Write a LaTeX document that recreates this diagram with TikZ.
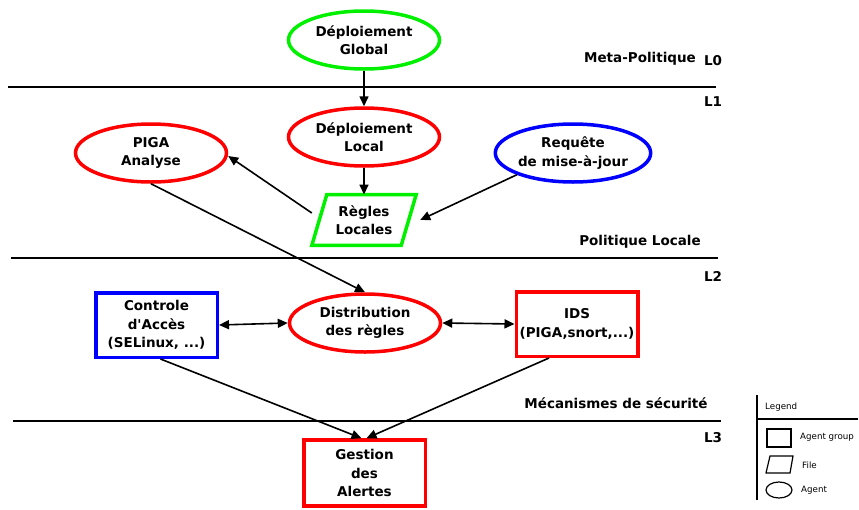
\documentclass[tikz,border=0pt]{standalone}
\usepackage{fontspec}
\setmainfont{DejaVu Sans}[Ligatures=TeXOff]
\usetikzlibrary{shapes.geometric,arrows.meta,calc}
\definecolor{vert}{RGB}{0,240,0}
\definecolor{rouge}{RGB}{255,0,0}
\definecolor{bleu}{RGB}{0,0,255}
\begin{document}
\begin{tikzpicture}[x=1pt,y=-1pt,
 lbl/.style={font=\fontsize{13.5}{18.5}\selectfont\bfseries, align=center},
 agent/.style={ellipse, draw, line width=3.5pt, minimum width=151pt, minimum height=58pt, inner sep=0pt, lbl},
 group/.style={rectangle, draw, line width=3.5pt, minimum width=121.5pt, minimum height=64.5pt, inner sep=0pt, lbl},
 sepline/.style={line width=2pt},
 conn/.style={line width=1.6pt, -{Triangle[length=10pt,width=9pt]}},
 bconn/.style={line width=1.6pt, {Triangle[length=10pt,width=9pt]}-{Triangle[length=10pt,width=9pt]}},
 tag/.style={font=\fontsize{13.5}{15}\selectfont\bfseries},
 leg/.style={font=\fontsize{8.7}{10}\selectfont, anchor=west, inner sep=0pt},
 legshape/.style={line width=1.2pt},
]
\useasboundingbox (0,0) rectangle (859,509);

% separators
\draw[sepline] (8,87) -- (716,87);
\draw[sepline] (11,258) -- (718,258);
\draw[sepline] (13,421) -- (721,421);

% level labels
\node[tag] (meta) at (640,59) {Meta-Politique};
\node[tag] (l0) at (713,61) {L0};
\node[tag] (l1) at (713,102) {L1};
\node[tag] (pol) at (640,242) {Politique Locale};
\node[tag] (l2) at (713,276) {L2};
\node[tag] (meca) at (616,403) {Mécanismes de sécurité};
\node[tag] (l3) at (713,438) {L3};

% nodes
\node[agent, draw=vert] (glob) at (364,40) {Déploiement\\Global};
\node[agent, draw=rouge] (loc) at (364,137) {Déploiement\\Local};
\node[agent, draw=rouge] (piga) at (151,153) {PIGA\\Analyse};
\node[agent, draw=bleu] (req) at (573,153) {Requête\\de mise-à-jour};
\node[lbl, minimum width=104pt, minimum height=50.5pt, inner sep=0pt] (regles) at (364,220) {Règles\\Locales};
\draw[vert, line width=3.5pt, line join=miter]
  ($(regles.north west)+(15,0)$) -- (regles.north east) -- ($(regles.south east)-(15,0)$) -- (regles.south west) -- cycle;
\node[agent, draw=rouge] (dist) at (365,323) {Distribution\\des règles};
\node[group, draw=bleu] (ctrl) at (156.5,325) {Controle\\d'Accès\\(SELinux, ...)};
\node[group, draw=rouge] (ids) at (577,324) {IDS\\(PIGA,snort,...)};
\node[group, draw=rouge, minimum height=66pt] (gest) at (364.5,473) {Gestion\\des\\Alertes};

% connectors
\draw[conn] (glob.south) -- (loc.north);
\draw[conn] (loc.south) -- (regles.north);
\draw[conn] ([yshift=7pt]regles.west) -- ([yshift=-3pt]piga.east);
\draw[conn] (req.south west) -- ([xshift=4pt]regles.east);
\draw[conn] (piga.south) -- (dist.north);
\draw[bconn] (ctrl.east) -- (dist.west);
\draw[bconn] (dist.east) -- (ids.west);
\draw[conn] ([xshift=4pt]ctrl.south) -- ([xshift=-3pt]gest.north);
\draw[conn] ([xshift=-28pt]ids.south) -- ([xshift=2pt]gest.north);

% legend
\draw[line width=1.3pt] (757,395) -- (757,500);
\draw[line width=1.3pt] (757,419) -- (858,419);
\node[leg] (legt) at (765,407) {Legend};
\draw[legshape] (767,429) rectangle (791,447);
\node[leg] (lg1) at (800,437) {Agent group};
\draw[legshape] (770,456) -- (793,456) -- (790,473) -- (766,473) -- cycle;
\node[leg] (lg2) at (802,465) {File};
\draw[legshape] (779,490) ellipse [x radius=13, y radius=8];
\node[leg] (lg3) at (801,490) {Agent};
\end{tikzpicture}
\end{document}
